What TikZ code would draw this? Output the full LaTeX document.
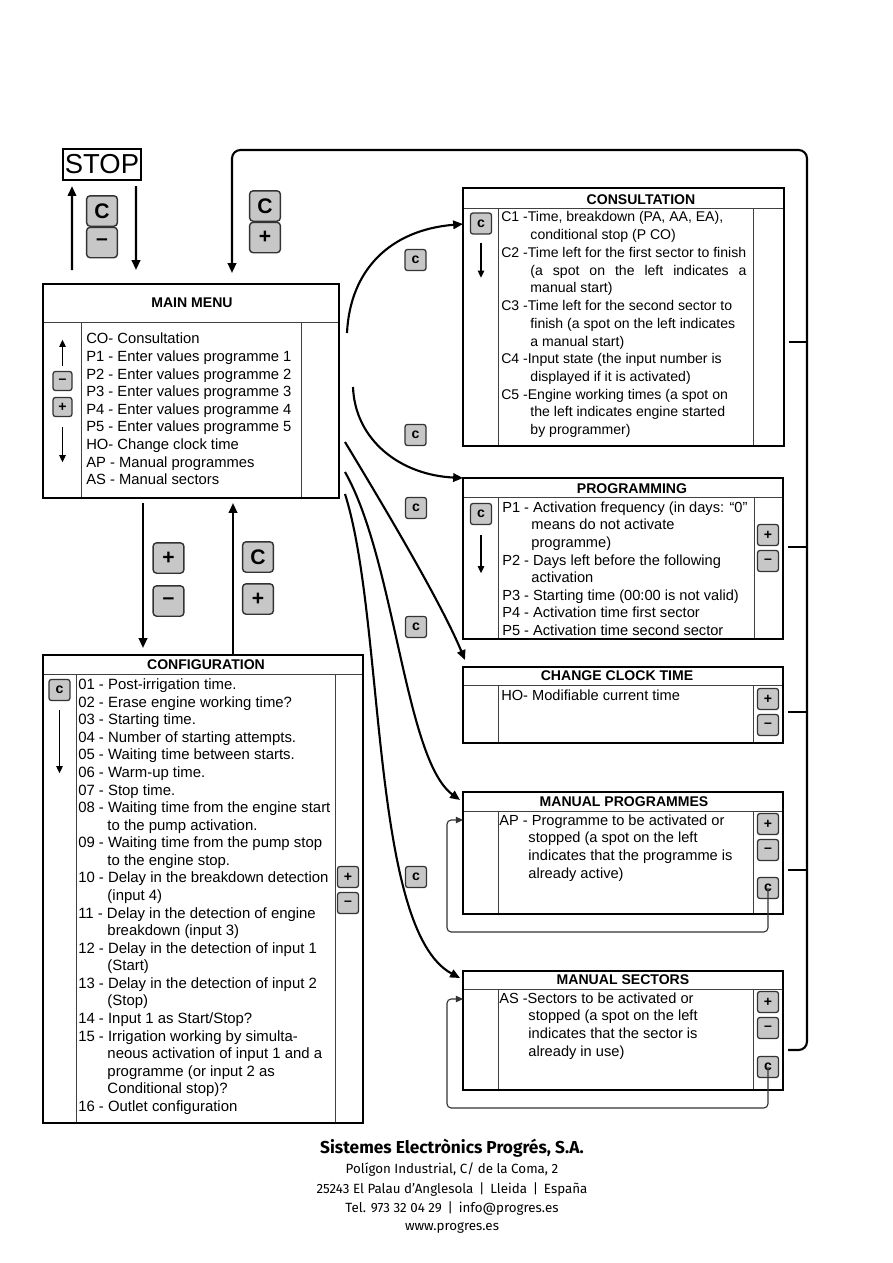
\documentclass[tikz,border=0pt]{standalone}
\usepackage{fontspec}
\setmainfont{Liberation Sans}
\newfontfamily\footfont{Fira Sans}
\usepackage{tikz}
\usetikzlibrary{arrows.meta,positioning,calc,fit}
\tikzset{
  panel/.style={draw, line width=1.5pt, inner sep=0pt, outer sep=0pt},
  divline/.style={draw=black!75, line width=0.7pt},
  paneltitle/.style={font=\fontsize{10}{12}\selectfont\bfseries, inner sep=0pt},
  listtext/.style={anchor=north west, inner sep=0pt, align=left,
                   font=\fontsize{10.4}{12.5}\selectfont, execute at begin node=\strut},
  bigkey/.style={draw=black!80, fill=black!22, line width=1pt, rounded corners=2.5pt,
                 minimum width=0.77cm, minimum height=0.76cm, inner sep=0pt,
                 font=\fontsize{15}{15}\selectfont\bfseries},
  smallkey/.style={draw=black!80, fill=black!22, line width=0.9pt, rounded corners=2pt,
                   minimum width=0.53cm, minimum height=0.53cm, inner sep=0pt,
                   font=\fontsize{10}{10}\selectfont\bfseries},
  flow/.style={line width=1.5pt, -{Triangle[length=7pt,width=6pt]}},
  scroll/.style={line width=1pt, -{Triangle[length=5pt,width=4.5pt]}},
  loopline/.style={draw=black!80, line width=0.8pt, rounded corners=3pt,
                   -{Triangle[length=5pt,width=4.5pt]}},
  bus/.style={line width=1.5pt, rounded corners=6pt},
  footline/.style={font=\footfont\fontsize{9.5}{12}\selectfont}
}
\newcommand\ind{\hspace*{0.73cm}}

\begin{document}
\begin{tikzpicture}[x=0.025cm, y=-0.025cm]
  \useasboundingbox (0,0) rectangle (893,1263);

  % STOP and keys above the main menu
  \node[draw, line width=1.4pt, minimum width=1.95cm, minimum height=0.78cm,
        inner sep=0pt, outer sep=0pt, font=\fontsize{19.5}{19.5}\selectfont] (stop) at (102,164.5) {STOP};
  \node[bigkey] (k-stop-c) at (102,211) {C};
  \node[bigkey] (k-stop-m) at (102,242.5) {–};
  \node[bigkey] (k-top-c) at (265,206) {C};
  \node[bigkey] (k-top-p) at (265,237.5) {+};

  % Main menu
  \draw[divline] (43,322) -- (339,322);
  \draw[divline] (81,322) -- (81,498);
  \draw[divline] (301,322) -- (301,498);
  \node[panel, fit={(43,284) (339,498)}] (main) {};
  \node[paneltitle] (main-title) at (192,303) {MAIN MENU};
  \node[listtext, font=\fontsize{10.5}{12.5}\selectfont] (main-list) at (86,333) {CO- Consultation\\
    P1 - Enter values programme 1\\
    P2 - Enter values programme 2\\
    P3 - Enter values programme 3\\
    P4 - Enter values programme 4\\
    P5 - Enter values programme 5\\
    HO- Change clock time\\
    AP - Manual programmes\\
    AS - Manual sectors};
  \node[smallkey, minimum size=0.48cm] (mm-minus) at (62.5,381) {–};
  \node[smallkey, minimum size=0.48cm] (mm-plus) at (62.5,407) {+};
  \draw[scroll] ($(mm-minus.north)+(0,-5)$) -- ($(mm-minus.north)+(0,-31)$);
  \draw[scroll] ($(mm-plus.south)+(0,10)$) -- ($(mm-plus.south)+(0,45)$);

  % Consultation
  \draw[divline] (463,208) -- (784,208);
  \draw[divline] (498,208) -- (498,446);
  \draw[divline] (753,208) -- (753,446);
  \node[panel, fit={(463,188) (784,446)}] (cons) {};
  \node[paneltitle] (cons-title) at (641,200) {CONSULTATION};
  \node[listtext, font=\fontsize{10}{12.6}\selectfont] (cons-list) at (501,211.5) {C1 -Time, breakdown (PA, AA, EA),\\
    \ind conditional stop (P CO)\\
    C2 -Time left for the first sector to finish\\
    \ind\makebox[5.4cm][s]{(a spot on the left indicates a}\\
    \ind manual start)\\
    C3 -Time left for the second sector to\\
    \ind finish (a spot on the left indicates\\
    \ind a manual start)\\
    C4 -Input state (the input number is\\
    \ind displayed if it is activated)\\
    C5 -Engine working times (a spot on\\
    \ind the left indicates engine started\\
    \ind by programmer)};
  \node[smallkey] (cons-c) at (481,223.5) {c};
  \draw[scroll] ($(cons-c.south)+(0,8)$) -- ($(cons-c.south)+(0,43)$);

  % Programming
  \draw[divline] (463,497) -- (783,497);
  \draw[divline] (498,497) -- (498,639);
  \draw[divline] (754,497) -- (754,639);
  \node[panel, fit={(463,478) (783,639)}] (prog) {};
  \node[paneltitle] (prog-title) at (632,489) {PROGRAMMING};
  \node[listtext] (prog-list) at (502,501.5) {P1 - Activation frequency (in days: “0”\\
    \ind means do not activate\\
    \ind programme)\\
    P2 - Days left before the following\\
    \ind activation\\
    P3 - Starting time (00:00 is not valid)\\
    P4 - Activation time first sector\\
    P5 - Activation time second sector};
  \node[smallkey] (prog-c) at (481,514) {c};
  \node[smallkey] (prog-plus) at (768,535) {+};
  \node[smallkey] (prog-minus) at (768,561) {–};
  \draw[scroll] ($(prog-c.south)+(0,10)$) -- ($(prog-c.south)+(0,48)$);

  % Change clock time
  \draw[divline] (463,685) -- (783,685);
  \draw[divline] (498,685) -- (498,743);
  \draw[divline] (753,685) -- (753,743);
  \node[panel, fit={(463,667) (783,743)}] (clock) {};
  \node[paneltitle] (clock-title) at (617,676) {CHANGE CLOCK TIME};
  \node[listtext] (clock-list) at (501,687.5) {HO- Modifiable current time};
  \node[smallkey] (clock-plus) at (768,699) {+};
  \node[smallkey] (clock-minus) at (768,725) {–};

  % Manual programmes
  \draw[divline] (463,811) -- (783,811);
  \draw[divline] (498,811) -- (498,914);
  \draw[divline] (753,811) -- (753,914);
  \node[panel, fit={(463,792) (783,914)}] (mprog) {};
  \node[paneltitle] (mprog-title) at (624,802) {MANUAL PROGRAMMES};
  \node[listtext] (mprog-list) at (499,814.5) {AP - Programme to be activated or\\
    \ind stopped (a spot on the left\\
    \ind indicates that the programme is\\
    \ind already active)};
  \node[smallkey] (mprog-plus) at (768,824) {+};
  \node[smallkey] (mprog-minus) at (768,850) {–};
  \node[smallkey] (mprog-c) at (768,888) {c};
  \draw[loopline] (mprog-c.center) |- (447,932) |- ($(mprog.north west)+(0,28)$);

  % Manual sectors
  \draw[divline] (463,989) -- (783,989);
  \draw[divline] (498,989) -- (498,1090);
  \draw[divline] (753,989) -- (753,1090);
  \node[panel, fit={(463,971) (783,1090)}] (msec) {};
  \node[paneltitle] (msec-title) at (623,980) {MANUAL SECTORS};
  \node[listtext] (msec-list) at (499,992.5) {AS -Sectors to be activated or\\
    \ind stopped (a spot on the left\\
    \ind indicates that the sector is\\
    \ind already in use)};
  \node[smallkey] (msec-plus) at (768,1002) {+};
  \node[smallkey] (msec-minus) at (768,1028) {–};
  \node[smallkey] (msec-c) at (768,1067) {c};
  \draw[loopline] (msec-c.center) |- (447,1108) |- ($(msec.north west)+(0,28)$);

  % Configuration
  \draw[divline] (43,674) -- (363,674);
  \draw[divline] (76,674) -- (76,1123);
  \draw[divline] (335,674) -- (335,1123);
  \node[panel, fit={(43,655) (363,1123)}] (config) {};
  \node[paneltitle] (config-title) at (206,665) {CONFIGURATION};
  \node[listtext, font=\fontsize{10.6}{12.5}\selectfont] (config-list) at (78,678.5) {01 - Post-irrigation time.\\
    02 - Erase engine working time?\\
    03 - Starting time.\\
    04 - Number of starting attempts.\\
    05 - Waiting time between starts.\\
    06 - Warm-up time.\\
    07 - Stop time.\\
    08 - Waiting time from the engine start\\
    \ind to the pump activation.\\
    09 - Waiting time from the pump stop\\
    \ind to the engine stop.\\
    10 - Delay in the breakdown detection\\
    \ind (input 4)\\
    11 - Delay in the detection of engine\\
    \ind breakdown (input 3)\\
    12 - Delay in the detection of input 1\\
    \ind (Start)\\
    13 - Delay in the detection of input 2\\
    \ind (Stop)\\
    14 - Input 1 as Start/Stop?\\
    15 - Irrigation working by simulta-\\
    \ind neous activation of input 1 and a\\
    \ind programme (or input 2 as\\
    \ind Conditional stop)?\\
    16 - Outlet configuration};
  \node[smallkey] (config-c) at (59.5,690) {c};
  \node[smallkey] (config-plus) at (348,877) {+};
  \node[smallkey] (config-minus) at (348,903) {–};
  \draw[scroll] ($(config-c.south)+(0,9)$) -- ($(config-c.south)+(0,72)$);

  % STOP <-> main menu
  \draw[flow] ($(main.north west)+(29,-14)$) -- ($(stop.south west)+(9,6)$);
  \draw[flow] ($(stop.south east)+(-5,6)$) -- ($(main.north west)+(93,-14)$);

  % main menu <-> configuration
  \node[bigkey] (k-cfg-p) at (168.5,558) {+};
  \node[bigkey] (k-cfg-m) at (168.5,601) {–};
  \node[bigkey] (k-ret-c) at (258,557) {C};
  \node[bigkey] (k-ret-p) at (258,599) {+};
  \draw[flow] ($(main.south west)+(100,5)$) -- ($(config.north west)+(100,-7)$);
  \draw[flow] ($(config.north west)+(190,0)$) -- ($(main.south west)+(190,5)$);

  % main menu -> sub menus
  \coordinate (o1) at (347,333);
  \coordinate (o2) at (353,387);
  \coordinate (o3) at (345,442);
  \coordinate (o4) at (345,472);
  \coordinate (o5) at (345,494);
  \draw[flow] (o1) .. controls (350,270) and (390,230) .. ($(cons.north west)+(0,36)$);
  \draw[flow] (o2) .. controls (355,440) and (400,475) .. (prog.north west);
  \draw[flow] (o3) .. controls (380,500) and (440,600) .. ($(clock.north west)+(2,-7)$);
  \draw[flow] (o4) .. controls (395,560) and (405,760) .. ($(mprog.north west)+(-3,8)$);
  \draw[flow] (o5) .. controls (385,620) and (370,930) .. ($(msec.north west)+(-3,7)$);
  \node[smallkey] (lbl-cons) at (415.5,260) {c};
  \node[smallkey] (lbl-prog) at (415.5,435) {c};
  \node[smallkey] (lbl-clock) at (416,508) {c};
  \node[smallkey] (lbl-mprog) at (416,627) {c};
  \node[smallkey] (lbl-msec) at (416,877) {c};

  % return bus to the main menu
  \coordinate (bus-b) at (807,1050);
  \draw[bus, -{Triangle[length=7pt,width=6pt]}] ($(msec.east |- bus-b)+(5,0)$) -- (bus-b)
    -- (807,150) -- (232,150) -- ($(main.north west)+(189,-11)$);
  \draw[bus] ($(cons.east |- 0,342)+(5,0)$) -- (807,342);
  \draw[bus] ($(prog.east |- 0,547)+(5,0)$) -- (807,547);
  \draw[bus] ($(clock.east |- 0,712)+(5,0)$) -- (807,712);
  \draw[bus] ($(mprog.east |- 0,870)+(5,0)$) -- (807,870);

  % footer
  \node[font=\footfont\bfseries\fontsize{12.3}{14}\selectfont] (foot-name) at (452,1148)
    {Sistemes Electrònics Progrés, S.A.};
  \node[footline] (foot-addr1) at (452,1170) {Polígon Industrial, C/ de la Coma, 2};
  \node[footline] (foot-addr2) at (452,1190)
    {25243 El Palau d’Anglesola \,|\, Lleida \,|\, España};
  \node[footline] (foot-tel) at (452,1209) {Tel. 973 32 04 29 \,|\, info@progres.es};
  \node[footline] (foot-web) at (452,1228) {www.progres.es};
\end{tikzpicture}
\end{document}
